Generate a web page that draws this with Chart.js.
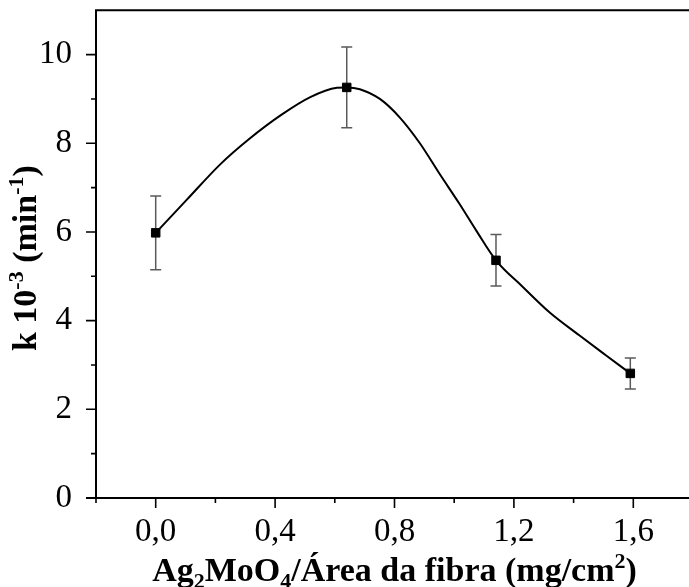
<!DOCTYPE html>
<html>
<head>
<meta charset="utf-8">
<script src="https://cdn.jsdelivr.net/npm/chart.js@4.4.1/dist/chart.umd.min.js"></script>
<style>
  html, body { margin: 0; padding: 0; background: #fff; overflow: hidden; }
  #wrap { width: 689px; height: 587px; overflow: hidden; }
  #kChart { display: block; margin-top: -14px; }
</style>
</head>
<body>
<div id="wrap"><canvas id="kChart" width="700" height="601"></canvas></div>
<script>
// measured points (mean +/- error)
const pointX = [0.0, 0.64, 1.14, 1.59];
const pointK = [5.98, 9.26, 5.36, 2.81];
const pointErr = [0.83, 0.91, 0.58, 0.35];

// smooth curve
const curveX = [0, 0.106, 0.217, 0.312, 0.423, 0.518, 0.607, 0.64, 0.684, 0.751, 0.818, 0.885, 0.952, 1.018, 1.074, 1.14, 1.23, 1.319, 1.419, 1.508, 1.59];
const curveK = [5.98, 6.74, 7.53, 8.09, 8.65, 9.04, 9.25, 9.26, 9.22, 9.0, 8.58, 8.0, 7.3, 6.63, 6.03, 5.36, 4.76, 4.19, 3.67, 3.22, 2.81];

const xMajor = [0.0, 0.4, 0.8, 1.2, 1.6];
const xMinor = [-0.2, 0.2, 0.6, 1.0, 1.4];
const yMajor = [0, 2, 4, 6, 8, 10];
const yMinor = [1, 3, 5, 7, 9];

const serif = "'Liberation Serif', 'Times New Roman', serif";

const xTitle = [["Ag", 0], ["2", 1], ["MoO", 0], ["4", 1], ["/Área da fibra (mg/cm", 0], ["2", -1], [")", 0]];
const yTitle = [["k 10", 0], ["-3", -1], [" (min", 0], ["-1", -1], [")", 0]];

function drawRich(ctx, parts) {
  const big = "bold 34px " + serif, small = "bold 22px " + serif;
  let total = 0;
  parts.forEach(p => { ctx.font = p[1] ? small : big; total += ctx.measureText(p[0]).width; });
  let x = -total / 2;
  parts.forEach(p => {
    ctx.font = p[1] ? small : big;
    const dy = p[1] === 1 ? 7 : (p[1] === -1 ? -13 : 0);
    ctx.fillText(p[0], x, dy);
    x += ctx.measureText(p[0]).width;
  });
}

const framePlugin = {
  id: "frame",
  beforeDatasetsDraw(chart) {
    const ctx = chart.ctx, xs = chart.scales.x, ys = chart.scales.y;
    ctx.save();
    ctx.strokeStyle = "#5a5a5a";
    ctx.lineWidth = 1.5;
    pointX.forEach((v, i) => {
      const px = xs.getPixelForValue(v);
      const top = ys.getPixelForValue(pointK[i] + pointErr[i]);
      const bot = ys.getPixelForValue(pointK[i] - pointErr[i]);
      ctx.beginPath();
      ctx.moveTo(px, top); ctx.lineTo(px, bot);
      ctx.moveTo(px - 5.5, top); ctx.lineTo(px + 5.5, top);
      ctx.moveTo(px - 5.5, bot); ctx.lineTo(px + 5.5, bot);
      ctx.stroke();
    });
    ctx.restore();
  },
  afterDraw(chart) {
    const ctx = chart.ctx, a = chart.chartArea, xs = chart.scales.x, ys = chart.scales.y;
    ctx.save();
    ctx.strokeStyle = "#000";
    ctx.lineWidth = 2;
    ctx.beginPath();
    // axes and top frame line
    ctx.moveTo(a.left, a.top); ctx.lineTo(a.left, a.bottom);
    ctx.moveTo(a.left - 10, a.bottom); ctx.lineTo(a.right, a.bottom);
    ctx.moveTo(a.left - 1, a.top); ctx.lineTo(a.right, a.top);
    ctx.stroke();
    ctx.lineWidth = 1.6;
    ctx.beginPath();
    xMajor.forEach(v => { const p = xs.getPixelForValue(v); ctx.moveTo(p, a.bottom); ctx.lineTo(p, a.bottom + 10); });
    xMinor.forEach(v => { const p = xs.getPixelForValue(v); ctx.moveTo(p, a.bottom); ctx.lineTo(p, a.bottom + 5); });
    yMajor.forEach(v => { const p = ys.getPixelForValue(v); ctx.moveTo(a.left - 10, p); ctx.lineTo(a.left, p); });
    yMinor.forEach(v => { const p = ys.getPixelForValue(v); ctx.moveTo(a.left - 5, p); ctx.lineTo(a.left, p); });
    ctx.stroke();

    ctx.fillStyle = "#000";
    ctx.textBaseline = "alphabetic";
    ctx.textAlign = "left";
    ctx.save();
    ctx.translate((a.left + a.right) / 2, a.bottom + 83);
    drawRich(ctx, xTitle);
    ctx.restore();
    ctx.save();
    ctx.translate(36, (a.top + a.bottom) / 2 + 4);
    ctx.rotate(-Math.PI / 2);
    drawRich(ctx, yTitle);
    ctx.restore();
    ctx.restore();
  }
};

Chart.defaults.font.family = serif;
Chart.defaults.color = "#000";

new Chart(document.getElementById("kChart"), {
  type: "scatter",
  data: {
    datasets: [
      {
        label: "curve",
        data: curveX.map((x, i) => ({ x: x, y: curveK[i] })),
        showLine: true,
        borderColor: "#000",
        borderWidth: 2,
        pointRadius: 0,
        cubicInterpolationMode: "monotone",
        order: 2
      },
      {
        label: "k",
        data: pointX.map((x, i) => ({ x: x, y: pointK[i] })),
        showLine: false,
        pointStyle: "rect",
        pointRadius: 6,
        pointBorderWidth: 1,
        pointBackgroundColor: "#000",
        pointBorderColor: "#000",
        order: 1
      }
    ]
  },
  options: {
    responsive: false,
    animation: false,
    layout: { padding: { top: 0, right: 5, left: 0, bottom: 0 } },
    plugins: { legend: { display: false }, tooltip: { enabled: false } },
    scales: {
      x: {
        type: "linear",
        min: -0.2,
        max: 1.8,
        grid: { display: false },
        border: { display: false },
        afterBuildTicks: s => { s.ticks = xMajor.map(v => ({ value: v })); },
        afterFit: s => { s.height = 89; },
        ticks: {
          padding: 7,
          font: { size: 33, lineHeight: 1.2 },
          callback: v => v.toFixed(1).replace(".", ",")
        }
      },
      y: {
        type: "linear",
        min: 0,
        max: 11,
        grid: { display: false },
        border: { display: false },
        afterBuildTicks: s => { s.ticks = yMajor.map(v => ({ value: v })); },
        afterFit: s => { s.width = 96; },
        ticks: {
          padding: 16,
          font: { size: 33, lineHeight: 0.5 },
          callback: v => String(v)
        }
      }
    }
  },
  plugins: [framePlugin]
});
</script>
</body>
</html>
